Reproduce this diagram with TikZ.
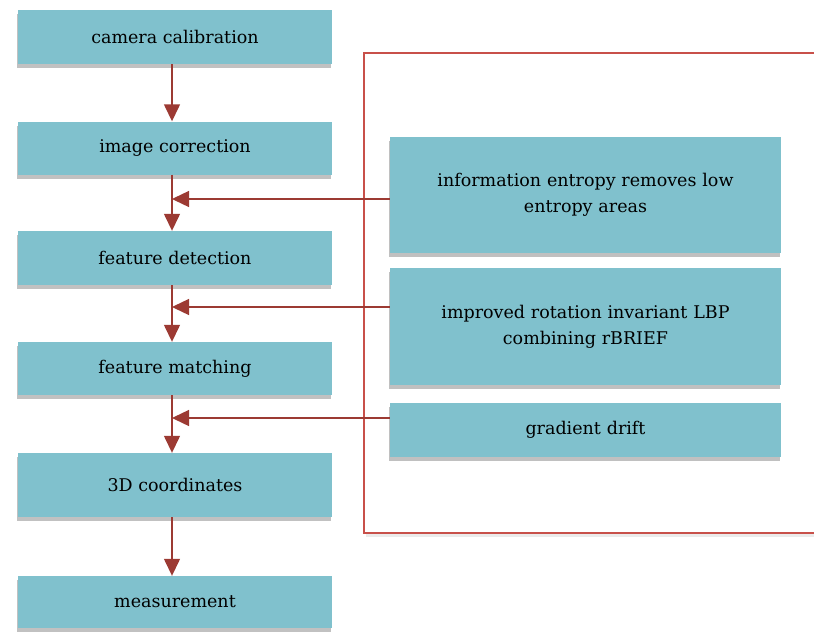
\documentclass[tikz,border=0pt]{standalone}
\usepackage{fontspec}
\setmainfont{DejaVu Serif}
\usetikzlibrary{shadows,arrows.meta,calc}
\definecolor{boxfill}{HTML}{80C1CD}
\definecolor{arrred}{HTML}{9C3A33}
\definecolor{frred}{HTML}{C8504A}
\tikzset{
  stepbox/.style={rectangle, fill=boxfill, draw=none, inner sep=2pt, align=center,
    font=\fontsize{17.5}{26}\selectfont, text=black,
    drop shadow={shadow xshift=-1.5pt, shadow yshift=-4pt, opacity=0.35, fill=black!70}},
  leftbox/.style={stepbox, minimum width=314pt},
  rightbox/.style={stepbox, minimum width=391pt, text width=340pt},
  flow/.style={draw=arrred, line width=1.4pt, -{Triangle[length=17pt,width=16pt]}},
}
\begin{document}
\begin{tikzpicture}[x=1pt,y=-1pt]
\useasboundingbox (0,0) rectangle (814,632);
% frame
\fill[black!8] (366,56) rectangle (840,537);
\fill[white] (365,54) rectangle (840,533);
\draw[frred, line width=1.2pt] (840,53) -- (364,53) -- (364,533) -- (840,533);
% left column
\node[leftbox, minimum height=54pt] (cam) at (175,37) {camera calibration};
\node[leftbox, minimum height=53pt] (img) at (175,148) {image correction};
\node[leftbox, minimum height=54pt] (fd)  at (175,258) {feature detection};
\node[leftbox, minimum height=53pt] (fm)  at (175,368.5) {feature matching};
\node[leftbox, minimum height=64pt] (td)  at (175,485) {3D coordinates};
\node[leftbox, minimum height=52pt] (ms)  at (175,602) {measurement};
% right column
\node[rightbox, minimum height=116pt] (ie)  at (585.5,195) {information entropy removes low\\entropy areas};
\node[rightbox, minimum height=117pt] (lbp) at (585.5,326.5) {improved rotation invariant LBP\\combining rBRIEF};
\node[rightbox, minimum height=54pt]  (gd)  at (585.5,430) {gradient drift};
% junction points
\coordinate (j1) at (172,199);
\coordinate (j2) at (172,307);
\coordinate (j3) at (172,418);
% vertical arrows
\draw[flow] ([xshift=-3pt]cam.south) -- ([xshift=-3pt]img.north);
\draw[flow] ([xshift=-3pt]img.south) -- ([xshift=-3pt]fd.north);
\draw[flow] ([xshift=-3pt]fd.south) -- ([xshift=-3pt]fm.north);
\draw[flow] ([xshift=-3pt]fm.south) -- ([xshift=-3pt]td.north);
\draw[flow] ([xshift=-3pt]td.south) -- ([xshift=-3pt]ms.north);
% horizontal arrows
\draw[flow] (ie.west |- j1) -- (j1);
\draw[flow] (lbp.west |- j2) -- (j2);
\draw[flow] (gd.west |- j3) -- (j3);
\end{tikzpicture}
\end{document}
